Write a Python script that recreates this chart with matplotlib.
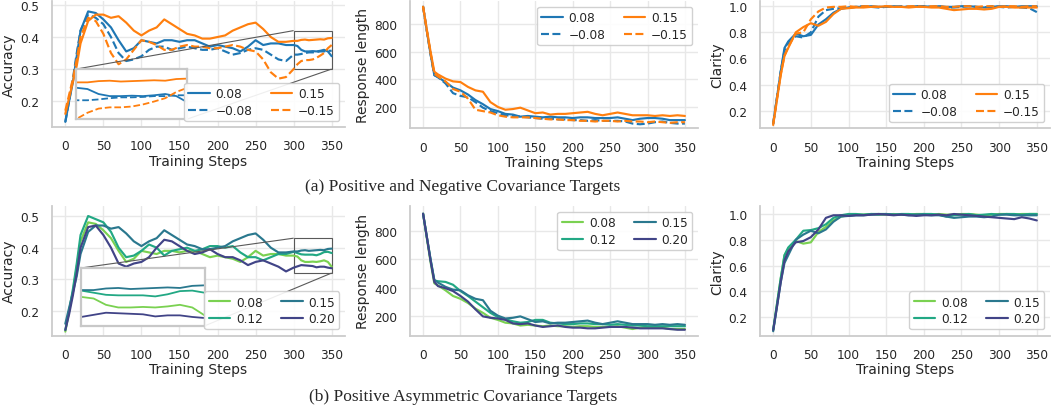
import matplotlib
matplotlib.use("Agg")
import matplotlib.pyplot as plt
import seaborn as sns
from mpl_toolkits.axes_grid1.inset_locator import mark_inset

# training steps (x axis)
steps = [0, 5, 10, 15, 20] + list(range(30, 351, 10))
# accuracy has extra points near the end (zoomed inset)
acc_steps = [0, 5, 10, 15, 20] + list(range(30, 300, 10)) + list(range(300, 351, 5))

# accuracy
acc_p08 = [0.135, 0.20, 0.26, 0.34, 0.42, 0.48, 0.475, 0.455, 0.43, 0.39, 0.355, 0.365, 0.39, 0.385, 0.38,
           0.39, 0.39, 0.385, 0.39, 0.39, 0.38, 0.37, 0.375, 0.37, 0.365, 0.355, 0.37, 0.39, 0.375, 0.38,
           0.38, 0.375,
           0.375, 0.372, 0.36, 0.355, 0.355, 0.356, 0.355, 0.357, 0.36, 0.355, 0.34]
acc_p15 = [0.16, 0.21, 0.26, 0.31, 0.38, 0.45, 0.47, 0.47, 0.46, 0.465, 0.445, 0.42, 0.405, 0.42, 0.43,
           0.455, 0.44, 0.425, 0.41, 0.405, 0.395, 0.395, 0.40, 0.405, 0.42, 0.43, 0.44, 0.445, 0.425, 0.40,
           0.385, 0.385,
           0.388, 0.388, 0.391, 0.392, 0.39, 0.391, 0.392, 0.393, 0.392, 0.396, 0.397]
acc_m08 = [0.135, 0.20, 0.27, 0.35, 0.42, 0.47, 0.46, 0.44, 0.40, 0.35, 0.325, 0.33, 0.34, 0.36, 0.37,
           0.37, 0.36, 0.365, 0.37, 0.365, 0.36, 0.36, 0.365, 0.355, 0.345, 0.35, 0.36, 0.365, 0.36, 0.345,
           0.33, 0.325,
           0.345, 0.345, 0.347, 0.35, 0.352, 0.352, 0.353, 0.355, 0.355, 0.357, 0.357]
acc_m15 = [0.17, 0.22, 0.27, 0.33, 0.40, 0.46, 0.45, 0.41, 0.35, 0.315, 0.33, 0.36, 0.39, 0.385, 0.375,
           0.36, 0.36, 0.37, 0.375, 0.37, 0.37, 0.365, 0.365, 0.37, 0.375, 0.37, 0.36, 0.355, 0.33, 0.29,
           0.27, 0.275,
           0.30, 0.315, 0.325, 0.328, 0.328, 0.33, 0.335, 0.342, 0.35, 0.365, 0.375]
acc_p12 = [0.14, 0.20, 0.27, 0.35, 0.44, 0.50, 0.49, 0.48, 0.45, 0.40, 0.37, 0.375, 0.39, 0.41, 0.40,
           0.375, 0.39, 0.395, 0.40, 0.39, 0.395, 0.405, 0.405, 0.40, 0.405, 0.385, 0.37, 0.37, 0.36, 0.37,
           0.38, 0.38,
           0.387, 0.383, 0.379, 0.378, 0.378, 0.378, 0.376, 0.38, 0.386, 0.387, 0.383]
acc_p20 = [0.14, 0.19, 0.25, 0.32, 0.40, 0.465, 0.47, 0.44, 0.40, 0.35, 0.34, 0.35, 0.355, 0.37, 0.40,
           0.425, 0.42, 0.405, 0.39, 0.38, 0.385, 0.395, 0.38, 0.37, 0.37, 0.36, 0.345, 0.355, 0.36, 0.35,
           0.34, 0.325,
           0.337, 0.341, 0.345, 0.344, 0.343, 0.342, 0.338, 0.34, 0.34, 0.337, 0.335]

# response length
len_p08 = [925, 750, 580, 430, 415, 380, 340, 320, 290, 250, 220, 185, 170, 150, 145, 130, 135, 130, 125,
           130, 125, 125, 120, 125, 125, 120, 120, 120, 125, 115, 105, 115, 120, 120, 115, 105, 105, 105]
len_p15 = [925, 760, 600, 455, 435, 405, 385, 380, 345, 320, 310, 235, 200, 180, 185, 195, 175, 155, 160,
           145, 150, 150, 155, 160, 165, 150, 140, 150, 160, 150, 140, 140, 140, 135, 140, 135, 140, 135]
len_m08 = [925, 750, 580, 430, 415, 370, 300, 280, 270, 235, 195, 170, 155, 140, 135, 130, 125, 120, 115,
           115, 110, 110, 105, 105, 100, 105, 100, 100, 100, 95, 80, 75, 80, 90, 95, 85, 80, 80]
len_m15 = [925, 750, 590, 440, 420, 385, 330, 310, 260, 180, 170, 160, 140, 130, 125, 125, 125, 120, 115,
           110, 110, 105, 105, 100, 100, 95, 100, 100, 95, 100, 95, 95, 90, 95, 90, 85, 90, 90]
len_p12 = [925, 760, 600, 450, 445, 440, 420, 375, 340, 300, 260, 220, 190, 175, 160, 150, 155, 170, 170,
           150, 145, 140, 140, 145, 145, 140, 140, 135, 140, 135, 130, 130, 125, 125, 125, 125, 125, 125]
len_p20 = [925, 760, 590, 440, 410, 395, 375, 340, 300, 245, 195, 185, 180, 170, 145, 140, 145, 130, 120,
           125, 130, 120, 115, 115, 110, 110, 115, 120, 120, 120, 115, 110, 110, 110, 110, 105, 100, 100]

# clarity
clr_p08 = [0.10, 0.30, 0.50, 0.68, 0.73, 0.79, 0.77, 0.78, 0.86, 0.90, 0.95, 0.98, 0.99, 0.995, 0.995,
           1.0, 0.995, 0.995, 1.0, 0.995, 0.995, 1.0, 1.0, 0.995, 1.0, 0.995, 0.995, 1.0, 1.0, 0.995,
           0.99, 0.995, 1.0, 1.0, 0.995, 1.0, 1.0, 1.0]
clr_m08 = [0.10, 0.30, 0.50, 0.66, 0.72, 0.77, 0.76, 0.80, 0.92, 0.97, 0.98, 0.985, 0.99, 0.995, 1.0,
           0.995, 0.99, 0.995, 0.995, 1.0, 0.995, 1.0, 1.0, 0.995, 1.0, 0.99, 0.99, 0.995, 1.0, 0.995,
           0.99, 1.0, 0.995, 0.99, 0.995, 0.99, 0.985, 0.955]
clr_p15 = [0.09, 0.28, 0.47, 0.62, 0.68, 0.80, 0.84, 0.87, 0.85, 0.88, 0.94, 0.98, 0.985, 0.99, 0.99,
           0.995, 0.995, 1.0, 0.995, 0.995, 0.99, 0.995, 0.995, 0.99, 0.99, 0.98, 0.97, 0.975, 0.98, 0.98,
           0.975, 0.98, 0.995, 0.995, 0.99, 0.99, 0.99, 0.99]
clr_m15 = [0.10, 0.29, 0.48, 0.62, 0.69, 0.79, 0.80, 0.90, 0.96, 0.99, 0.995, 0.995, 1.0, 0.995, 1.0,
           1.0, 0.995, 1.0, 0.995, 0.995, 1.0, 1.0, 0.995, 1.0, 1.0, 0.995, 0.995, 1.0, 1.0, 0.995,
           1.0, 1.0, 0.995, 1.0, 1.0, 0.995, 1.0, 1.0]
clr_p12 = [0.10, 0.30, 0.50, 0.68, 0.74, 0.80, 0.87, 0.875, 0.89, 0.92, 0.97, 0.99, 1.0, 1.0, 0.995,
           1.0, 1.0, 1.0, 0.995, 1.0, 1.0, 0.995, 1.0, 1.0, 0.995, 0.98, 0.99, 0.995, 1.0, 0.99,
           0.995, 1.0, 0.995, 1.0, 1.0, 0.995, 1.0, 1.0]
clr_p20 = [0.10, 0.28, 0.47, 0.64, 0.71, 0.78, 0.79, 0.82, 0.88, 0.97, 0.99, 0.99, 0.985, 0.99, 0.99,
           0.995, 1.0, 0.995, 0.99, 0.995, 0.99, 0.985, 0.99, 0.99, 0.995, 0.99, 1.0, 0.995, 0.99, 0.985,
           0.98, 0.975, 0.97, 0.965, 0.96, 0.975, 0.965, 0.95]

labels_a = ["0.08", "\u22120.08", "0.15", "\u22120.15"]
labels_b = ["0.08", "0.12", "0.15", "0.20"]
captions = ["(a) Positive and Negative Covariance Targets", "(b) Positive Asymmetric Covariance Targets"]

sns.set_theme(style="whitegrid")
plt.rcParams["font.family"] = ["DejaVu Sans"]
plt.rcParams["grid.color"] = "#e8e8e8"
plt.rcParams["axes.edgecolor"] = "#cccccc"

blue, orange = "#1f77b4", "#ff7f0e"
vir = sns.color_palette("viridis", 4)  # dark -> light
col_b = [vir[3], vir[2], vir[1], vir[0]]

W, H = 1053, 410
fig = plt.figure(figsize=(W / 100, H / 100), dpi=100)


def add_ax(l, t, r, b):
    return fig.add_axes([l / W, 1 - b / H, (r - l) / W, (b - t) / H])


def style(ax, ylabel, ylim, yticks):
    ax.set_xlim(-17.5, 367.5)
    ax.set_ylim(*ylim)
    ax.set_xticks(range(0, 351, 50))
    ax.set_yticks(yticks)
    ax.tick_params(labelsize=8.7, colors=".15", pad=3)
    ax.set_xlabel("Training Steps", fontsize=10, labelpad=1)
    ax.set_ylabel(ylabel, fontsize=10, labelpad=3)
    sns.despine(ax=ax)
    ax.spines["left"].set_linewidth(1.3)
    ax.spines["bottom"].set_linewidth(1.3)


def make_inset(ax, bounds, xlim, ylim):
    ins = ax.inset_axes(bounds, transform=ax.transData)
    ins.set_xlim(*xlim)
    ins.set_ylim(*ylim)
    ins.set_xticks([])
    ins.set_yticks([])
    ins.grid(False)
    for s in ins.spines.values():
        s.set_color("#c8c8c8")
        s.set_linewidth(1.6)
    mark_inset(ax, ins, loc1=2, loc2=4, fc="none", ec="0.35", lw=0.8)
    return ins


cols = [(52, 345), (410, 698), (760, 1050)]
lw = 1.55
leg_kw = dict(ncol=2, fontsize=8.7, handlelength=1.8, handletextpad=0.45, columnspacing=1.5,
              labelspacing=0.3, borderpad=0.35, framealpha=0.9)

# ---------- row (a) ----------
a1 = add_ax(cols[0][0], 2, cols[0][1], 128)
a2 = add_ax(cols[1][0], 2, cols[1][1], 129)
a3 = add_ax(cols[2][0], 2, cols[2][1], 129)

styles_a = [(blue, "-"), (blue, "--"), (orange, "-"), (orange, "--")]
acc_a = [acc_p08, acc_m08, acc_p15, acc_m15]
for (c, ls), ys, lab in zip(styles_a, acc_a, labels_a):
    a1.plot(acc_steps, ys, color=c, ls=ls, lw=lw, label=lab)
for ax, ser in [(a2, [len_p08, len_m08, len_p15, len_m15]), (a3, [clr_p08, clr_m08, clr_p15, clr_m15])]:
    for (c, ls), ys, lab in zip(styles_a, ser, labels_a):
        ax.plot(steps, ys, color=c, ls=ls, lw=lw, label=lab)

style(a1, "Accuracy", (0.119, 0.5125), [0.2, 0.3, 0.4, 0.5])
style(a2, "Response length", (48, 966), [200, 400, 600, 800])
style(a3, "Clarity", (0.067, 1.04), [0.2, 0.4, 0.6, 0.8, 1.0])

ins_a = make_inset(a1, [14.5, 0.144, 146, 0.156], (300, 350), (0.30, 0.42))
for (c, ls), ys in zip(styles_a, acc_a):
    ins_a.plot(acc_steps, ys, color=c, ls=ls, lw=1.3)

a1.legend(loc="lower right", **leg_kw)
a2.legend(loc="upper right", **leg_kw)
a3.legend(loc="lower right", **leg_kw)

# ---------- row (b) ----------
b1 = add_ax(cols[0][0], 207, cols[0][1], 336.5)
b2 = add_ax(cols[1][0], 207, cols[1][1], 336.5)
b3 = add_ax(cols[2][0], 207, cols[2][1], 336.5)

acc_b = [acc_p08, acc_p12, acc_p15, acc_p20]
for c, ys, lab in zip(col_b, acc_b, labels_b):
    b1.plot(acc_steps, ys, color=c, lw=lw, label=lab)
for ax, ser in [(b2, [len_p08, len_p12, len_p15, len_p20]), (b3, [clr_p08, clr_p12, clr_p15, clr_p20])]:
    for c, ys, lab in zip(col_b, ser, labels_b):
        ax.plot(steps, ys, color=c, lw=lw, label=lab)

style(b1, "Accuracy", (0.1227, 0.5316), [0.2, 0.3, 0.4, 0.5])
style(b2, "Response length", (59, 980), [200, 400, 600, 800])
style(b3, "Clarity", (0.057, 1.062), [0.2, 0.4, 0.6, 0.8, 1.0])

ins_b = make_inset(b1, [21, 0.153, 162, 0.183], (300, 350), (0.32, 0.43))
for c, ys in zip(col_b, acc_b):
    ins_b.plot(acc_steps, ys, color=c, lw=1.3)

b1.legend(loc="lower right", **leg_kw)
b2.legend(loc="upper right", **leg_kw)
b3.legend(loc="lower right", **leg_kw)

# captions
fig.text(463 / W, 1 - 187 / H, captions[0], ha="center", va="center",
         family="Liberation Serif", fontsize=12.5)
fig.text(463 / W, 1 - 397 / H, captions[1], ha="center", va="center",
         family="Liberation Serif", fontsize=12.5)

fig.savefig("out.png", dpi=100)
